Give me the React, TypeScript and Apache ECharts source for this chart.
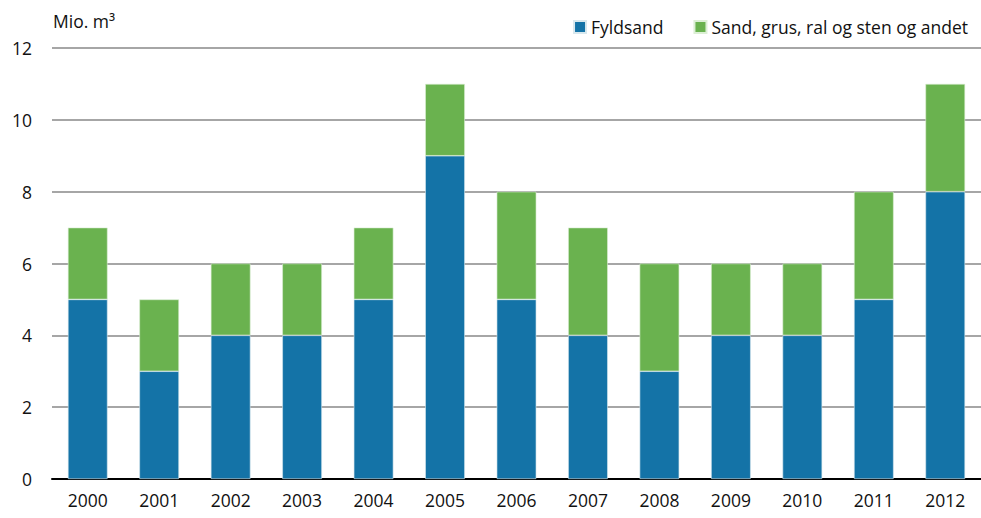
import React, { useEffect, useRef } from "react";
import * as echarts from "echarts";

const categories = ["2000","2001","2002","2003","2004","2005","2006","2007","2008","2009","2010","2011","2012"];
const fyldsand = [5, 3, 4, 4, 5, 9, 5, 4, 3, 4, 4, 5, 8];
const sandGrus = [2, 2, 2, 2, 2, 2, 3, 3, 3, 2, 2, 3, 3];
const seriesNames = ["Fyldsand", "Sand, grus, ral og sten og andet"];
const unitLabel = "Mio. m³";

const FONT = "'Open Sans', sans-serif";
const FS = 17.5;

export default function App() {
  const ref = useRef<HTMLDivElement>(null);
  useEffect(() => {
    const chart = echarts.init(ref.current!, null, { renderer: "svg" });
    chart.setOption({
      animation: false,
      textStyle: { fontFamily: FONT },
      grid: { left: 52, width: 937, top: 48, bottom: 39, containLabel: false },
      legend: {
        right: 8,
        top: 13,
        itemWidth: 12,
        itemHeight: 12,
        itemGap: 30,
        itemTextGap: 5,
        icon: "rect",
        textStyle: { fontSize: FS, color: "#111", fontFamily: FONT },
        data: seriesNames,
      },
      graphic: [
        {
          type: "text",
          left: 53,
          top: 12,
          style: { text: unitLabel, fontSize: FS, fill: "#111", fontFamily: FONT },
        },
      ],
      xAxis: {
        type: "category",
        data: categories,
        axisTick: { show: false },
        axisLine: { lineStyle: { color: "#000", width: 2 } },
        axisLabel: { fontSize: FS, color: "#111", margin: 12, fontFamily: FONT },
      },
      yAxis: {
        type: "value",
        min: 0,
        max: 12,
        interval: 2,
        axisLine: { show: false },
        axisTick: { show: false },
        axisLabel: { fontSize: FS, color: "#111", margin: 20, fontFamily: FONT },
        splitLine: { lineStyle: { color: "#a6a6a6", width: 2 } },
      },
      series: [
        {
          name: seriesNames[0],
          type: "bar",
          stack: "t",
          data: fyldsand,
          barWidth: "55.5%",
          itemStyle: { color: "#1473a7", borderColor: "#d8e8ee", borderWidth: 0.6 },
        },
        {
          name: seriesNames[1],
          type: "bar",
          stack: "t",
          data: sandGrus,
          barWidth: "55.5%",
          itemStyle: { color: "#6ab24f", borderColor: "#dcefd5", borderWidth: 0.6 },
        },
      ],
    });
    return () => chart.dispose();
  }, []);
  return <div ref={ref} style={{ width: 981, height: 518, position: "absolute", left: 0, top: 0 }} />;
}
